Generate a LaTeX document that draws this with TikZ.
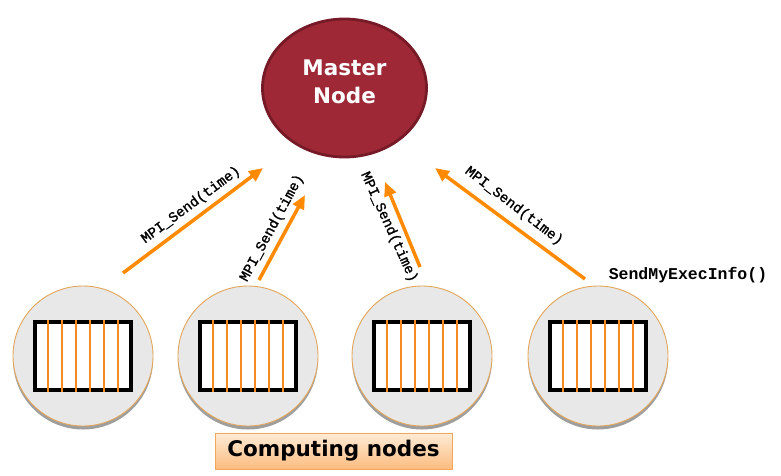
\documentclass[tikz,border=0pt]{standalone}
\usepackage{fontspec}
\setmainfont{DejaVu Sans}
\newfontfamily\monofont[FakeBold=1.3]{Liberation Mono}
\newfontfamily\monoboldfont{Liberation Mono Bold}
\usetikzlibrary{arrows.meta,shapes.geometric}
\definecolor{masterred}{HTML}{9E2836}
\definecolor{masteredge}{HTML}{751A26}
\definecolor{arroworange}{HTML}{FF8A00}
\definecolor{lineorange}{HTML}{F58A20}
\definecolor{circfill}{HTML}{E8E8E8}
\definecolor{circedge}{HTML}{E2A65A}
\definecolor{boxtop}{HTML}{FEEBD6}
\definecolor{boxbot}{HTML}{FBBC80}
\definecolor{boxedge}{HTML}{F1A659}
\begin{document}
\begin{tikzpicture}[x=1pt,y=-1pt,
  compnode/.style={circle, minimum size=140pt, inner sep=0pt, fill=circfill,
    draw=circedge, line width=0.9pt},
  shadowdisc/.style={circle, minimum size=140pt, inner sep=0pt, fill=black!38},
  gridbox/.style={draw=black, line width=4.5pt, fill=white, minimum width=96pt,
    minimum height=68pt, inner sep=0pt},
  gridline/.style={fill=lineorange},
  sendarrow/.style={draw=arroworange, line width=3.5pt,
    -{Triangle[length=14pt,width=12pt,fill=arroworange]}},
  sendlabel/.style={font=\monofont\fontsize{14.2}{14.2}\selectfont, inner sep=0pt},
  bigtext/.style={font=\bfseries\fontsize{21.5}{28}\selectfont}
]
\useasboundingbox (0,0) rectangle (781,475);

% master node
\node[ellipse, minimum width=164pt, minimum height=138pt, inner sep=0pt,
      fill=masterred, draw=masteredge, line width=2.8pt] (master) at (344.5,88) {};
\node[bigtext, text=white, align=center] (mastertext) at (344.5,82) {Master\\Node};

% computing nodes
\foreach \i/\cx in {1/83, 2/248, 3/422, 4/598} {
  \node[shadowdisc] (sh\i) at (\cx,359.5) {};
  \node[compnode] (c\i) at (\cx,356) {};
  \node[gridbox] (r\i) at (c\i) {};
  \foreach \k in {0,...,5} {
    \pgfmathtruncatemacro{\xa}{-36+14*\k}
    \pgfmathtruncatemacro{\xb}{-34+14*\k}
    \path[gridline]
      ([xshift=\xa pt, yshift=36pt]r\i.center) rectangle
      ([xshift=\xb pt, yshift=-36pt]r\i.center);
  }
}

% arrows
\coordinate (s1) at (123,273); \coordinate (t1) at (263,168);
\coordinate (s2) at (259,280); \coordinate (t2) at (305,195);
\coordinate (s3) at (420,267); \coordinate (t3) at (385,182);
\coordinate (s4) at (585,279); \coordinate (t4) at (435,168);
\foreach \i in {1,...,4} { \draw[sendarrow] (s\i) -- (t\i); }

% labels
\node[sendlabel, rotate=36.6] (l1) at (191,205) {MPI\_Send(time)};
\node[sendlabel, rotate=61.6] (l2) at (272,228) {MPI\_Send(time)};
\node[sendlabel, rotate=-65.5] (l3) at (389,227) {MPI\_Send(time)};
\node[sendlabel, rotate=-37.5] (l4) at (514,206) {MPI\_Send(time)};
\node[font=\monoboldfont\fontsize{16.5}{16.5}\selectfont, inner sep=0pt]
  (exec) at (688,275) {SendMyExecInfo()};

% caption box
\node[draw=boxedge, line width=0.9pt, top color=boxtop, bottom color=boxbot,
      minimum width=237pt, minimum height=36pt, inner sep=0pt, bigtext]
  (caption) at (333.5,451) {Computing nodes};
\end{tikzpicture}
\end{document}
